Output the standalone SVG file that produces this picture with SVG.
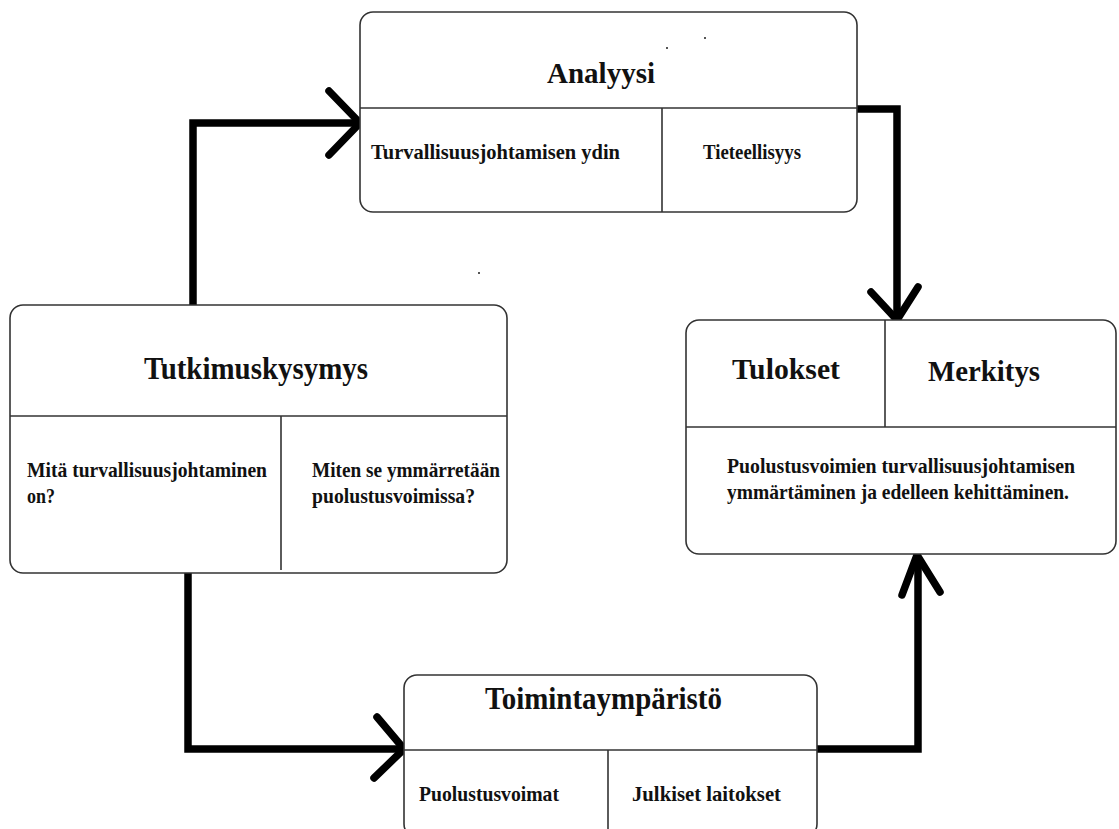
<svg xmlns="http://www.w3.org/2000/svg" width="1119" height="829" viewBox="0 0 1119 829">
  <style>
    .box { fill: #ffffff; stroke: #333333; stroke-width: 1.6; }
    .div { stroke: #333333; stroke-width: 1.6; fill: none; }
    .t { font-family: "Liberation Serif", "Times New Roman", serif; font-weight: bold; fill: #111111; }
    .conn { fill: none; stroke: #000000; stroke-width: 7.5; stroke-linejoin: miter; stroke-linecap: round; }
    .head { fill: none; stroke: #000000; stroke-width: 7.5; stroke-linejoin: round; stroke-linecap: round; }
    .dot { fill: #555555; }
  </style>
  <rect width="1119" height="829" fill="#ffffff"/>

  <g id="connectors">
    <path class="conn" d="M193,305 V123 H356"/>
    <path class="head" d="M329,91 L360,123 L329,155"/>
    <path class="conn" d="M855,109 H897 V316"/>
    <path class="head" d="M871,292 L897,320 L918,287"/>
    <path class="conn" d="M188,573 V749 H400"/>
    <path class="head" d="M377,717 L404,749 L374,778"/>
    <path class="conn" d="M817,749 H918 V560"/>
    <path class="head" d="M902,595 L917,555 L940,592"/>
  </g>

  <g id="analyysi">
    <rect class="box" x="360" y="12" width="497" height="200" rx="13" ry="13"/>
    <line class="div" x1="360" y1="108" x2="857" y2="108"/>
    <line class="div" x1="662" y1="108" x2="662" y2="212"/>
    <text class="t" x="547" y="83" font-size="29" textLength="108" lengthAdjust="spacingAndGlyphs">Analyysi</text>
    <text class="t" x="371" y="159" font-size="21" textLength="249" lengthAdjust="spacingAndGlyphs">Turvallisuusjohtamisen ydin</text>
    <text class="t" x="703" y="159" font-size="21" textLength="98" lengthAdjust="spacingAndGlyphs">Tieteellisyys</text>
  </g>

  <g id="tutkimuskysymys">
    <rect class="box" x="10" y="305" width="497" height="268" rx="13" ry="13"/>
    <line class="div" x1="10" y1="416" x2="507" y2="416"/>
    <line class="div" x1="281" y1="416" x2="281" y2="570"/>
    <text class="t" x="144" y="379" font-size="31" textLength="224" lengthAdjust="spacingAndGlyphs">Tutkimuskysymys</text>
    <text class="t" x="27" y="477" font-size="21" textLength="240" lengthAdjust="spacingAndGlyphs">Mitä turvallisuusjohtaminen</text>
    <text class="t" x="27" y="503" font-size="21" textLength="28" lengthAdjust="spacingAndGlyphs">on?</text>
    <text class="t" x="312" y="477" font-size="21" textLength="188" lengthAdjust="spacingAndGlyphs">Miten se ymmärretään</text>
    <text class="t" x="312" y="503" font-size="21" textLength="163" lengthAdjust="spacingAndGlyphs">puolustusvoimissa?</text>
  </g>

  <g id="tulokset">
    <rect class="box" x="686" y="320" width="430" height="234" rx="13" ry="13"/>
    <line class="div" x1="686" y1="427" x2="1116" y2="427"/>
    <line class="div" x1="885" y1="320" x2="885" y2="427"/>
    <text class="t" x="732" y="379" font-size="30" textLength="108" lengthAdjust="spacingAndGlyphs">Tulokset</text>
    <text class="t" x="928" y="381" font-size="30" textLength="112" lengthAdjust="spacingAndGlyphs">Merkitys</text>
    <text class="t" x="727" y="473" font-size="21" textLength="348" lengthAdjust="spacingAndGlyphs">Puolustusvoimien turvallisuusjohtamisen</text>
    <text class="t" x="727" y="499" font-size="21" textLength="342" lengthAdjust="spacingAndGlyphs">ymmärtäminen ja edelleen kehittäminen.</text>
  </g>

  <g id="toimintaymparisto">
    <rect class="box" x="404" y="675" width="413" height="162" rx="13" ry="13"/>
    <line class="div" x1="404" y1="750" x2="817" y2="750"/>
    <line class="div" x1="608" y1="750" x2="608" y2="829"/>
    <text class="t" x="485" y="709" font-size="31" textLength="237" lengthAdjust="spacingAndGlyphs">Toimintaympäristö</text>
    <text class="t" x="419" y="801" font-size="21" textLength="140" lengthAdjust="spacingAndGlyphs">Puolustusvoimat</text>
    <text class="t" x="632" y="801" font-size="21" textLength="149" lengthAdjust="spacingAndGlyphs">Julkiset laitokset</text>
  </g>

  <g id="specks">
    <rect class="dot" x="478" y="272" width="2" height="2"/>
    <rect class="dot" x="666" y="47" width="2" height="2"/>
    <rect class="dot" x="704" y="37" width="2" height="2"/>
  </g>
</svg>
